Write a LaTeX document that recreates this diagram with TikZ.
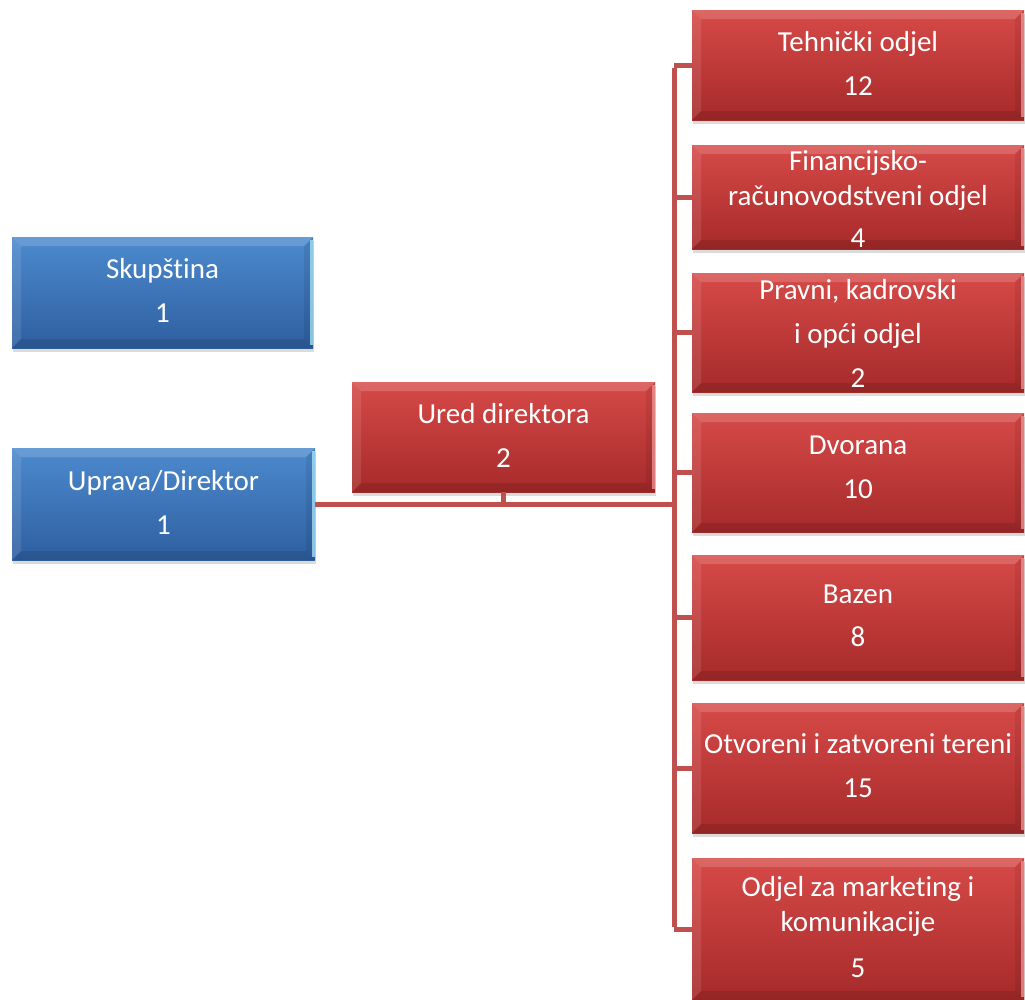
\documentclass[tikz,border=0pt]{standalone}
\usepackage{fontspec}
\setmainfont{Carlito}[Ligatures=NoCommon]
\usetikzlibrary{shadows,calc}
\definecolor{redtop}{RGB}{214,74,72}
\definecolor{redbot}{RGB}{166,42,42}
\definecolor{bluetop}{RGB}{76,138,206}
\definecolor{bluebot}{RGB}{46,95,160}
\definecolor{linkred}{RGB}{192,80,77}
\definecolor{rededge}{RGB}{240,150,150}
\definecolor{blueedge}{RGB}{170,230,250}
\tikzset{
  bevelpic/.style={path picture={
    \coordinate (bnw) at (path picture bounding box.north west);
    \coordinate (bne) at (path picture bounding box.north east);
    \coordinate (bsw) at (path picture bounding box.south west);
    \coordinate (bse) at (path picture bounding box.south east);
    \fill[white,opacity=0.16] (bnw) -- (bne) -- ($(bne)+(-9pt,-9pt)$) -- ($(bnw)+(9pt,-9pt)$) -- cycle;
    \fill[white,opacity=0.10] (bnw) -- ($(bnw)+(9pt,-9pt)$) -- ($(bsw)+(9pt,9pt)$) -- (bsw) -- cycle;
    \fill[black,opacity=0.10] (bsw) -- ($(bsw)+(9pt,9pt)$) -- ($(bse)+(-9pt,9pt)$) -- (bse) -- cycle;
    \fill[black,opacity=0.08] (bne) -- (bse) -- ($(bse)+(-9pt,9pt)$) -- ($(bne)+(-9pt,-9pt)$) -- cycle;
    \draw[#1,line width=2.5pt,opacity=0.75] ($(bne)+(-1.5pt,-3pt)$) -- ($(bse)+(-1.5pt,3pt)$);
  }},
  orgbox/.style={draw=none, inner sep=0pt, rectangle,
    drop shadow={shadow xshift=1pt,shadow yshift=-4pt,opacity=0.2,fill=black!70}},
  redbox/.style={orgbox, top color=redtop, bottom color=redbot, bevelpic=rededge},
  bluebox/.style={orgbox, top color=bluetop, bottom color=bluebot, bevelpic=blueedge},
  txt/.style={text=white, align=center, inner sep=0pt, font=\fontsize{29}{35}\selectfont},
  link/.style={draw=linkred, line width=5pt}
}
\begin{document}
\begin{tikzpicture}[x=1pt,y=-1pt]
\useasboundingbox (0,0) rectangle (1025,999);
\clip (0,0) rectangle (1025,999);
\fill[white] (0,0) rectangle (1025,999);

\coordinate (spine) at (674,0);

% blue boxes
\node[bluebox, minimum width=301pt, minimum height=111pt] (skup) at (162.5,292.5) {};
\node[bluebox, minimum width=303pt, minimum height=112pt] (uprava) at (163.5,504) {};

% main connector
\draw[link] (uprava.east) -- (uprava.east -| spine);

\node[redbox, minimum width=303pt, minimum height=110pt] (ured) at (503.5,437) {};
\draw[link] (ured.south) -- (ured.south |- uprava.east);

\node[redbox, minimum width=332pt, minimum height=110pt] (tech) at (858,65) {};
\node[redbox, minimum width=332pt, minimum height=104pt] (fin) at (858,197) {};
\node[redbox, minimum width=332pt, minimum height=119pt] (prav) at (858,332.5) {};
\node[redbox, minimum width=332pt, minimum height=119pt] (dvor) at (858,472.5) {};
\node[redbox, minimum width=332pt, minimum height=125pt] (baz) at (858,617.5) {};
\node[redbox, minimum width=332pt, minimum height=130pt] (otv) at (858,768) {};
\node[redbox, minimum width=332pt, minimum height=142pt] (mark) at (858,929) {};

\draw[link] ($(spine |- tech.west)+(0,-2.5pt)$) -- ($(spine |- mark.west)+(0,2.5pt)$);
\foreach \b in {tech,fin,prav,dvor,baz,otv,mark}{
  \draw[link] (spine |- \b.west) -- (\b.west);
}

% texts
\node[txt] (skup-t) at ($(skup)+(0,2pt)$) {Skupština\\[9pt]1};
\node[txt] (uprava-t) at ($(uprava)+(0,2pt)$) {Uprava/Direktor\\[9pt]1};
\node[txt] (ured-t) at ($(ured)+(0,2pt)$) {Ured direktora\\[9pt]2};
\node[txt] (tech-t) at ($(tech)+(0,2pt)$) {Tehnički odjel\\[9pt]12};
\node[txt] (fin-t) at ($(fin)+(0,-2pt)$) {Financijsko-\\računovodstveni odjel\\[7pt]4};
\node[txt] (prav-t) at ($(prav)+(0,-1pt)$) {Pravni, kadrovski\\[9pt]i opći odjel\\[9pt]2};
\node[txt] (dvor-t) at ($(dvor)+(0,5pt)$) {Dvorana\\[9pt]10};
\node[txt] (baz-t) at ($(baz)+(0,2pt)$) {Bazen\\[8pt]8};
\node[txt] (otv-t) at ($(otv)+(0,2pt)$) {Otvoreni i zatvoreni tereni\\[9pt]15};
\node[txt] (mark-t) at ($(mark)+(0,2pt)$) {Odjel za marketing i\\komunikacije\\[11pt]5};
\end{tikzpicture}
\end{document}
